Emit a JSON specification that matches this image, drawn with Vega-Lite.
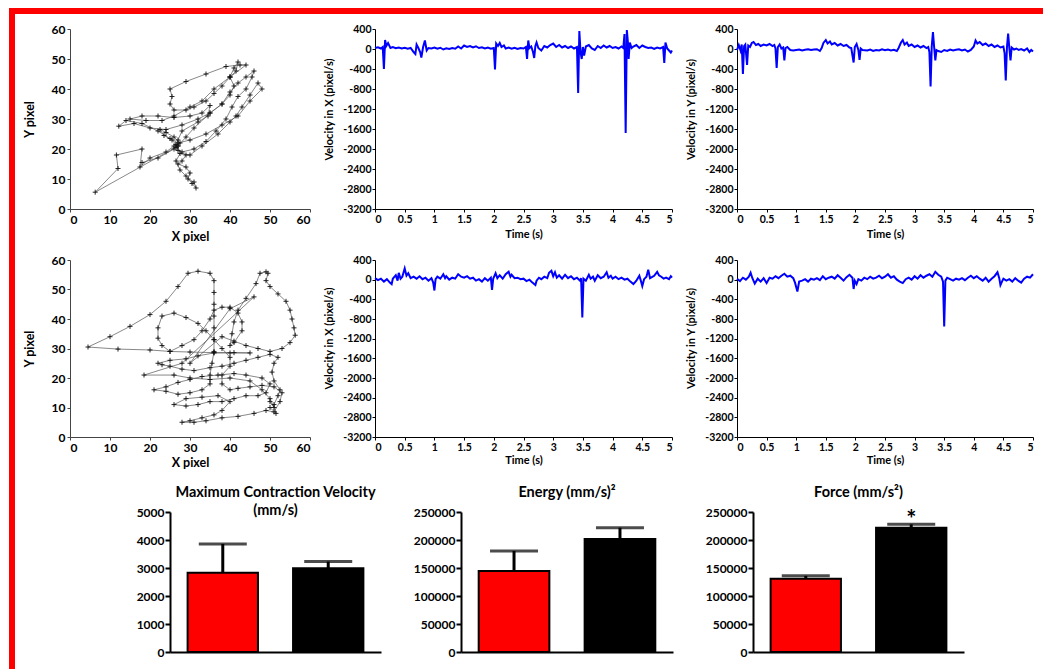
{
  "$schema": "https://vega.github.io/schema/vega-lite/v6.json",
  "background": "white",
  "padding": {"left": 9, "top": 8, "right": 0, "bottom": 0},
  "config": {
    "view": {"stroke": null},
    "font": "Lato",
    "axis": {"labelFont": "Lato", "labelFontWeight": "bold", "titleFont": "Lato", "titleFontWeight": "bold", "labelColor": "#000", "titleColor": "#000", "domainColor": "#000", "tickColor": "#000", "grid": false, "labelOverlap": false},
    "title": {"font": "Lato", "fontWeight": "bold", "color": "#000"}
  },
  "datasets": {
    "traj1": [{"x":27,"y":21},{"x":6.3,"y":5.6},{"x":12,"y":13.5},{"x":11.6,"y":18},{"x":18,"y":20},{"x":17.5,"y":14},{"x":20,"y":17},{"x":24,"y":19},{"x":26,"y":21},{"x":27.5,"y":22},{"x":26,"y":24},{"x":24,"y":25.5},{"x":22.5,"y":26.5},{"x":23.5,"y":24.5},{"x":25.5,"y":23},{"x":26.5,"y":21.5},{"x":27,"y":19.5},{"x":29,"y":18},{"x":28,"y":16},{"x":27,"y":15},{"x":29,"y":14},{"x":30,"y":12},{"x":29.5,"y":10},{"x":31,"y":9},{"x":31.5,"y":7},{"x":30.5,"y":8.5},{"x":29,"y":11},{"x":27.5,"y":13},{"x":26.5,"y":16},{"x":27.5,"y":18.5},{"x":30,"y":18},{"x":33,"y":21},{"x":37,"y":25},{"x":40,"y":29},{"x":41.5,"y":31},{"x":43,"y":34},{"x":45,"y":38},{"x":47,"y":42},{"x":48,"y":40},{"x":45,"y":36},{"x":42,"y":31},{"x":38,"y":28},{"x":34,"y":25},{"x":30,"y":23},{"x":27,"y":22},{"x":25,"y":23.5},{"x":22,"y":26},{"x":18,"y":28.5},{"x":14,"y":29.5},{"x":12.2,"y":27.6},{"x":16,"y":28.5},{"x":20,"y":27},{"x":24,"y":26.5},{"x":28,"y":28},{"x":32,"y":30},{"x":35,"y":32},{"x":38,"y":35},{"x":40,"y":38},{"x":41,"y":41},{"x":40,"y":44},{"x":41,"y":47},{"x":42,"y":49},{"x":41.5,"y":46},{"x":40,"y":44},{"x":38,"y":41},{"x":36,"y":38.5},{"x":34,"y":36},{"x":31,"y":34},{"x":29,"y":33},{"x":26,"y":33},{"x":25,"y":35},{"x":25.5,"y":37.5},{"x":25,"y":40},{"x":29,"y":42.5},{"x":34,"y":45},{"x":39,"y":47.5},{"x":42.5,"y":48},{"x":44,"y":48},{"x":40,"y":44},{"x":36,"y":40},{"x":33,"y":36},{"x":30,"y":34},{"x":26,"y":31},{"x":23,"y":29.5},{"x":19,"y":29.5},{"x":15,"y":30},{"x":18,"y":31},{"x":22,"y":31},{"x":26,"y":30.5},{"x":30,"y":31},{"x":33,"y":32},{"x":35,"y":34.5},{"x":34.5,"y":31},{"x":32,"y":29},{"x":28,"y":26},{"x":27,"y":23},{"x":26.5,"y":20.5},{"x":28,"y":19},{"x":31,"y":20},{"x":34,"y":22.5},{"x":36.5,"y":26},{"x":39,"y":30},{"x":40.5,"y":34},{"x":42,"y":37.5},{"x":44,"y":40},{"x":45.5,"y":44},{"x":46,"y":46},{"x":44,"y":44},{"x":42,"y":42},{"x":40,"y":39},{"x":38,"y":35},{"x":35,"y":32},{"x":31,"y":27},{"x":29,"y":24},{"x":27,"y":21},{"x":26,"y":20},{"x":22,"y":17},{"x":18,"y":15.5}],
    "traj2": [{"x":50,"y":10},{"x":51.5,"y":8},{"x":51,"y":11},{"x":52,"y":14},{"x":52.5,"y":16},{"x":51,"y":19},{"x":50.5,"y":22},{"x":51,"y":25},{"x":52,"y":27},{"x":50,"y":28},{"x":47,"y":27},{"x":44,"y":26},{"x":41,"y":25},{"x":38,"y":24},{"x":35,"y":23.5},{"x":31,"y":22.5},{"x":28,"y":23},{"x":25,"y":24},{"x":23,"y":24.5},{"x":22,"y":25},{"x":25,"y":26},{"x":29,"y":26.5},{"x":32,"y":27.5},{"x":36,"y":28.5},{"x":40,"y":28.5},{"x":45,"y":28.5},{"x":41,"y":28.6},{"x":36,"y":28.6},{"x":30,"y":28.8},{"x":25,"y":29},{"x":20,"y":29.5},{"x":12,"y":29.8},{"x":4.5,"y":30.5},{"x":10,"y":34},{"x":15,"y":37.5},{"x":20,"y":41.5},{"x":24,"y":46},{"x":27,"y":51},{"x":29.5,"y":55.5},{"x":32,"y":56.2},{"x":35,"y":55.5},{"x":36,"y":53},{"x":36,"y":49},{"x":36,"y":45},{"x":36,"y":41},{"x":36,"y":37},{"x":36,"y":33},{"x":36,"y":29},{"x":35.5,"y":25},{"x":35,"y":21},{"x":35,"y":18},{"x":33,"y":16},{"x":30,"y":15},{"x":27,"y":14.5},{"x":24,"y":15.5},{"x":21,"y":16},{"x":24,"y":17},{"x":27,"y":18.5},{"x":30,"y":19.5},{"x":33,"y":20.5},{"x":37,"y":21},{"x":41,"y":21.5},{"x":44,"y":21},{"x":48,"y":20},{"x":50,"y":18},{"x":49,"y":15},{"x":47,"y":14},{"x":44,"y":14},{"x":41,"y":13},{"x":38,"y":12},{"x":35,"y":12},{"x":32,"y":11},{"x":29,"y":10.5},{"x":26,"y":11},{"x":29,"y":13},{"x":33,"y":13.5},{"x":37,"y":14},{"x":40,"y":12},{"x":38,"y":9},{"x":36,"y":7.5},{"x":33,"y":6.5},{"x":30,"y":5.5},{"x":28,"y":5},{"x":31,"y":5},{"x":34,"y":5.5},{"x":38,"y":6.5},{"x":42,"y":7},{"x":46,"y":8},{"x":49,"y":9},{"x":51,"y":8.5},{"x":52.5,"y":12},{"x":53,"y":15},{"x":51,"y":17},{"x":48,"y":17.5},{"x":45,"y":17},{"x":42,"y":16.5},{"x":40,"y":16},{"x":38,"y":18},{"x":38,"y":21},{"x":40,"y":24},{"x":40,"y":27},{"x":38,"y":30},{"x":36,"y":33},{"x":34,"y":36},{"x":32,"y":38.5},{"x":29,"y":40.5},{"x":26,"y":42},{"x":23,"y":41},{"x":22,"y":37},{"x":22,"y":33.5},{"x":23,"y":31},{"x":25,"y":29},{"x":28,"y":31},{"x":31,"y":33},{"x":33,"y":36},{"x":35,"y":40},{"x":36,"y":43},{"x":38,"y":44},{"x":40,"y":44},{"x":42,"y":42},{"x":43,"y":39},{"x":43,"y":36},{"x":41,"y":32},{"x":40,"y":31},{"x":40.5,"y":35},{"x":41,"y":39},{"x":42,"y":43},{"x":44,"y":47},{"x":46.5,"y":52},{"x":47.5,"y":55.5},{"x":49,"y":56},{"x":49.5,"y":55.5},{"x":49,"y":53},{"x":50,"y":51},{"x":52,"y":48.5},{"x":54,"y":46},{"x":55,"y":43},{"x":55.5,"y":40},{"x":56,"y":37},{"x":56.3,"y":34.5},{"x":55,"y":32},{"x":53,"y":30},{"x":50,"y":29},{"x":47,"y":30},{"x":44,"y":31},{"x":41,"y":32.5},{"x":38,"y":34},{"x":30,"y":25},{"x":40,"y":43.5},{"x":46,"y":47.5},{"x":28,"y":25},{"x":18.5,"y":21},{"x":26,"y":21},{"x":30,"y":20},{"x":35,"y":19.5},{"x":40,"y":20},{"x":45,"y":19},{"x":48,"y":16},{"x":50,"y":13},{"x":51,"y":10},{"x":50,"y":12}],
    "vx1": [{"t":0,"v":20},{"t":0.05,"v":35},{"t":0.1,"v":10},{"t":0.13,"v":40},{"t":0.15,"v":-400},{"t":0.17,"v":180},{"t":0.19,"v":60},{"t":0.22,"v":120},{"t":0.26,"v":20},{"t":0.3,"v":40},{"t":0.35,"v":15},{"t":0.4,"v":30},{"t":0.45,"v":10},{"t":0.5,"v":25},{"t":0.55,"v":5},{"t":0.6,"v":20},{"t":0.65,"v":-60},{"t":0.68,"v":-100},{"t":0.7,"v":90},{"t":0.73,"v":20},{"t":0.76,"v":-60},{"t":0.78,"v":-170},{"t":0.81,"v":40},{"t":0.84,"v":170},{"t":0.87,"v":-30},{"t":0.9,"v":20},{"t":0.95,"v":10},{"t":1.0,"v":30},{"t":1.05,"v":5},{"t":1.1,"v":25},{"t":1.15,"v":-10},{"t":1.2,"v":15},{"t":1.25,"v":0},{"t":1.3,"v":20},{"t":1.35,"v":5},{"t":1.4,"v":50},{"t":1.45,"v":10},{"t":1.5,"v":70},{"t":1.55,"v":40},{"t":1.6,"v":60},{"t":1.65,"v":30},{"t":1.7,"v":55},{"t":1.75,"v":20},{"t":1.8,"v":35},{"t":1.85,"v":10},{"t":1.9,"v":30},{"t":1.95,"v":5},{"t":2.0,"v":20},{"t":2.02,"v":-410},{"t":2.04,"v":110},{"t":2.07,"v":60},{"t":2.1,"v":120},{"t":2.13,"v":40},{"t":2.17,"v":70},{"t":2.2,"v":10},{"t":2.25,"v":30},{"t":2.3,"v":5},{"t":2.35,"v":25},{"t":2.4,"v":0},{"t":2.45,"v":20},{"t":2.5,"v":10},{"t":2.54,"v":40},{"t":2.56,"v":-200},{"t":2.58,"v":170},{"t":2.6,"v":20},{"t":2.63,"v":50},{"t":2.66,"v":-60},{"t":2.68,"v":-180},{"t":2.7,"v":60},{"t":2.72,"v":130},{"t":2.75,"v":20},{"t":2.8,"v":-30},{"t":2.85,"v":60},{"t":2.9,"v":30},{"t":2.95,"v":80},{"t":3.0,"v":110},{"t":3.05,"v":40},{"t":3.1,"v":80},{"t":3.15,"v":30},{"t":3.2,"v":60},{"t":3.25,"v":20},{"t":3.3,"v":50},{"t":3.35,"v":10},{"t":3.4,"v":40},{"t":3.42,"v":-880},{"t":3.44,"v":360},{"t":3.46,"v":-60},{"t":3.48,"v":-200},{"t":3.5,"v":40},{"t":3.52,"v":-130},{"t":3.55,"v":50},{"t":3.6,"v":80},{"t":3.65,"v":10},{"t":3.7,"v":-20},{"t":3.75,"v":60},{"t":3.8,"v":20},{"t":3.85,"v":70},{"t":3.9,"v":30},{"t":3.95,"v":60},{"t":4.0,"v":20},{"t":4.05,"v":40},{"t":4.1,"v":10},{"t":4.15,"v":50},{"t":4.18,"v":20},{"t":4.2,"v":300},{"t":4.22,"v":-1680},{"t":4.24,"v":380},{"t":4.26,"v":100},{"t":4.27,"v":-200},{"t":4.29,"v":130},{"t":4.32,"v":20},{"t":4.35,"v":50},{"t":4.4,"v":80},{"t":4.45,"v":20},{"t":4.5,"v":70},{"t":4.55,"v":40},{"t":4.6,"v":20},{"t":4.65,"v":30},{"t":4.7,"v":0},{"t":4.75,"v":30},{"t":4.8,"v":10},{"t":4.85,"v":40},{"t":4.87,"v":-280},{"t":4.89,"v":130},{"t":4.92,"v":10},{"t":4.95,"v":-30},{"t":4.98,"v":-70},{"t":5.0,"v":-30}],
    "vy1": [{"t":0,"v":-20},{"t":0.03,"v":80},{"t":0.06,"v":-30},{"t":0.08,"v":90},{"t":0.1,"v":-500},{"t":0.12,"v":60},{"t":0.14,"v":90},{"t":0.17,"v":-320},{"t":0.19,"v":70},{"t":0.22,"v":40},{"t":0.25,"v":120},{"t":0.28,"v":140},{"t":0.32,"v":80},{"t":0.36,"v":100},{"t":0.4,"v":60},{"t":0.45,"v":90},{"t":0.5,"v":70},{"t":0.55,"v":100},{"t":0.6,"v":60},{"t":0.63,"v":80},{"t":0.65,"v":10},{"t":0.67,"v":-380},{"t":0.69,"v":40},{"t":0.72,"v":90},{"t":0.75,"v":10},{"t":0.78,"v":30},{"t":0.8,"v":-230},{"t":0.82,"v":20},{"t":0.85,"v":40},{"t":0.9,"v":-20},{"t":0.95,"v":-30},{"t":1.0,"v":-20},{"t":1.05,"v":-10},{"t":1.1,"v":-30},{"t":1.15,"v":-15},{"t":1.2,"v":-5},{"t":1.25,"v":-20},{"t":1.3,"v":-10},{"t":1.35,"v":-5},{"t":1.4,"v":-40},{"t":1.43,"v":20},{"t":1.46,"v":120},{"t":1.5,"v":180},{"t":1.53,"v":110},{"t":1.57,"v":150},{"t":1.6,"v":90},{"t":1.65,"v":120},{"t":1.7,"v":70},{"t":1.75,"v":100},{"t":1.8,"v":60},{"t":1.85,"v":80},{"t":1.9,"v":30},{"t":1.93,"v":20},{"t":1.97,"v":-270},{"t":1.99,"v":40},{"t":2.02,"v":100},{"t":2.05,"v":-20},{"t":2.07,"v":-220},{"t":2.09,"v":10},{"t":2.12,"v":-20},{"t":2.2,"v":-30},{"t":2.25,"v":-10},{"t":2.3,"v":-40},{"t":2.35,"v":-20},{"t":2.4,"v":-30},{"t":2.45,"v":-5},{"t":2.5,"v":-25},{"t":2.55,"v":-10},{"t":2.6,"v":-30},{"t":2.65,"v":-15},{"t":2.7,"v":-40},{"t":2.73,"v":20},{"t":2.77,"v":130},{"t":2.8,"v":180},{"t":2.83,"v":90},{"t":2.87,"v":130},{"t":2.9,"v":60},{"t":2.95,"v":90},{"t":3.0,"v":40},{"t":3.05,"v":70},{"t":3.1,"v":30},{"t":3.15,"v":60},{"t":3.2,"v":20},{"t":3.23,"v":40},{"t":3.25,"v":-60},{"t":3.27,"v":-750},{"t":3.29,"v":60},{"t":3.31,"v":340},{"t":3.33,"v":40},{"t":3.35,"v":-230},{"t":3.37,"v":-20},{"t":3.4,"v":-40},{"t":3.45,"v":-60},{"t":3.5,"v":-20},{"t":3.55,"v":-40},{"t":3.6,"v":-10},{"t":3.65,"v":-30},{"t":3.7,"v":-15},{"t":3.75,"v":-5},{"t":3.8,"v":-30},{"t":3.85,"v":-10},{"t":3.9,"v":-50},{"t":3.95,"v":-20},{"t":4.0,"v":50},{"t":4.03,"v":170},{"t":4.06,"v":110},{"t":4.1,"v":140},{"t":4.15,"v":80},{"t":4.2,"v":110},{"t":4.25,"v":60},{"t":4.3,"v":90},{"t":4.35,"v":40},{"t":4.4,"v":70},{"t":4.45,"v":30},{"t":4.5,"v":50},{"t":4.52,"v":-80},{"t":4.54,"v":-630},{"t":4.56,"v":40},{"t":4.58,"v":310},{"t":4.6,"v":20},{"t":4.62,"v":-230},{"t":4.64,"v":30},{"t":4.68,"v":-10},{"t":4.72,"v":10},{"t":4.76,"v":-20},{"t":4.8,"v":0},{"t":4.85,"v":-30},{"t":4.9,"v":10},{"t":4.94,"v":-60},{"t":4.97,"v":-20},{"t":5.0,"v":-50}],
    "vx2": [{"t":0,"v":30},{"t":0.05,"v":-10},{"t":0.1,"v":20},{"t":0.15,"v":-40},{"t":0.2,"v":10},{"t":0.25,"v":-60},{"t":0.28,"v":-90},{"t":0.3,"v":20},{"t":0.35,"v":90},{"t":0.38,"v":-20},{"t":0.4,"v":140},{"t":0.43,"v":20},{"t":0.46,"v":60},{"t":0.5,"v":230},{"t":0.53,"v":80},{"t":0.56,"v":130},{"t":0.6,"v":30},{"t":0.65,"v":60},{"t":0.7,"v":20},{"t":0.75,"v":70},{"t":0.8,"v":10},{"t":0.85,"v":40},{"t":0.9,"v":-20},{"t":0.95,"v":30},{"t":0.98,"v":-60},{"t":1.0,"v":-220},{"t":1.02,"v":10},{"t":1.05,"v":60},{"t":1.1,"v":20},{"t":1.15,"v":110},{"t":1.18,"v":30},{"t":1.2,"v":70},{"t":1.25,"v":0},{"t":1.3,"v":40},{"t":1.35,"v":20},{"t":1.4,"v":110},{"t":1.45,"v":60},{"t":1.5,"v":40},{"t":1.55,"v":70},{"t":1.6,"v":20},{"t":1.65,"v":40},{"t":1.7,"v":-20},{"t":1.75,"v":10},{"t":1.8,"v":-40},{"t":1.85,"v":30},{"t":1.9,"v":-20},{"t":1.95,"v":40},{"t":1.97,"v":-210},{"t":1.99,"v":20},{"t":2.03,"v":130},{"t":2.06,"v":30},{"t":2.1,"v":90},{"t":2.15,"v":20},{"t":2.2,"v":110},{"t":2.25,"v":160},{"t":2.28,"v":60},{"t":2.3,"v":100},{"t":2.35,"v":30},{"t":2.4,"v":40},{"t":2.45,"v":10},{"t":2.5,"v":20},{"t":2.55,"v":-30},{"t":2.6,"v":0},{"t":2.65,"v":-60},{"t":2.7,"v":-110},{"t":2.72,"v":-20},{"t":2.76,"v":40},{"t":2.8,"v":10},{"t":2.85,"v":60},{"t":2.9,"v":30},{"t":2.93,"v":140},{"t":2.97,"v":180},{"t":3.0,"v":70},{"t":3.03,"v":150},{"t":3.06,"v":40},{"t":3.1,"v":90},{"t":3.15,"v":20},{"t":3.2,"v":100},{"t":3.25,"v":30},{"t":3.3,"v":70},{"t":3.35,"v":10},{"t":3.4,"v":40},{"t":3.45,"v":-20},{"t":3.47,"v":30},{"t":3.49,"v":-770},{"t":3.51,"v":20},{"t":3.55,"v":-20},{"t":3.6,"v":100},{"t":3.63,"v":20},{"t":3.67,"v":60},{"t":3.7,"v":-20},{"t":3.75,"v":90},{"t":3.8,"v":30},{"t":3.85,"v":60},{"t":3.9,"v":150},{"t":3.93,"v":40},{"t":3.97,"v":80},{"t":4.0,"v":20},{"t":4.05,"v":60},{"t":4.1,"v":10},{"t":4.15,"v":40},{"t":4.2,"v":0},{"t":4.25,"v":20},{"t":4.3,"v":-40},{"t":4.35,"v":-90},{"t":4.4,"v":-20},{"t":4.45,"v":80},{"t":4.48,"v":-40},{"t":4.5,"v":-130},{"t":4.53,"v":10},{"t":4.57,"v":60},{"t":4.6,"v":200},{"t":4.63,"v":30},{"t":4.66,"v":50},{"t":4.7,"v":80},{"t":4.75,"v":160},{"t":4.78,"v":90},{"t":4.82,"v":60},{"t":4.86,"v":20},{"t":4.9,"v":40},{"t":4.95,"v":10},{"t":4.98,"v":70},{"t":5.0,"v":40}],
    "vy2": [{"t":0,"v":20},{"t":0.05,"v":-30},{"t":0.1,"v":40},{"t":0.15,"v":0},{"t":0.2,"v":60},{"t":0.23,"v":140},{"t":0.26,"v":30},{"t":0.3,"v":-80},{"t":0.35,"v":20},{"t":0.4,"v":-40},{"t":0.45,"v":30},{"t":0.5,"v":-70},{"t":0.55,"v":40},{"t":0.6,"v":20},{"t":0.65,"v":70},{"t":0.7,"v":30},{"t":0.75,"v":80},{"t":0.8,"v":120},{"t":0.85,"v":60},{"t":0.9,"v":80},{"t":0.95,"v":30},{"t":0.98,"v":-60},{"t":1.02,"v":-240},{"t":1.05,"v":-40},{"t":1.1,"v":-20},{"t":1.15,"v":10},{"t":1.2,"v":-40},{"t":1.25,"v":20},{"t":1.3,"v":0},{"t":1.35,"v":30},{"t":1.4,"v":-10},{"t":1.45,"v":70},{"t":1.5,"v":10},{"t":1.55,"v":40},{"t":1.6,"v":60},{"t":1.65,"v":20},{"t":1.7,"v":90},{"t":1.75,"v":40},{"t":1.8,"v":-20},{"t":1.85,"v":50},{"t":1.9,"v":100},{"t":1.95,"v":40},{"t":1.97,"v":-190},{"t":1.99,"v":-20},{"t":2.02,"v":-90},{"t":2.05,"v":10},{"t":2.1,"v":-20},{"t":2.15,"v":40},{"t":2.2,"v":10},{"t":2.25,"v":60},{"t":2.3,"v":20},{"t":2.35,"v":40},{"t":2.4,"v":80},{"t":2.45,"v":30},{"t":2.5,"v":60},{"t":2.55,"v":110},{"t":2.6,"v":40},{"t":2.65,"v":70},{"t":2.7,"v":0},{"t":2.75,"v":-40},{"t":2.8,"v":-70},{"t":2.85,"v":10},{"t":2.9,"v":40},{"t":2.95,"v":0},{"t":3.0,"v":70},{"t":3.05,"v":20},{"t":3.1,"v":90},{"t":3.15,"v":40},{"t":3.2,"v":80},{"t":3.25,"v":110},{"t":3.3,"v":60},{"t":3.35,"v":160},{"t":3.4,"v":100},{"t":3.45,"v":60},{"t":3.48,"v":-40},{"t":3.5,"v":-950},{"t":3.52,"v":-20},{"t":3.55,"v":40},{"t":3.6,"v":10},{"t":3.65,"v":-20},{"t":3.7,"v":20},{"t":3.75,"v":0},{"t":3.8,"v":30},{"t":3.85,"v":-10},{"t":3.9,"v":40},{"t":3.95,"v":80},{"t":4.0,"v":30},{"t":4.05,"v":70},{"t":4.1,"v":20},{"t":4.15,"v":-20},{"t":4.2,"v":40},{"t":4.25,"v":-40},{"t":4.3,"v":20},{"t":4.35,"v":70},{"t":4.4,"v":150},{"t":4.43,"v":30},{"t":4.45,"v":-110},{"t":4.48,"v":-30},{"t":4.5,"v":20},{"t":4.55,"v":-20},{"t":4.6,"v":10},{"t":4.65,"v":-40},{"t":4.7,"v":30},{"t":4.75,"v":-20},{"t":4.8,"v":-60},{"t":4.85,"v":20},{"t":4.9,"v":60},{"t":4.95,"v":40},{"t":5.0,"v":110}],
    "mcv": [{"g":"A","m":2830,"hi":3860,"star":""},{"g":"B","m":2990,"hi":3230,"star":""}],
    "energy": [{"g":"A","m":144500,"hi":180500,"star":""},{"g":"B","m":202000,"hi":222000,"star":""}],
    "force": [{"g":"A","m":131000,"hi":136000,"star":""},{"g":"B","m":222000,"hi":228000,"star":"*"}]
  },
  "spacing": 0,
  "hconcat": [
    {
      "width": 6, "height": 661,
      "view": {"fill": "#ff0000", "stroke": null},
      "data": {"values": [{}]},
      "mark": {"type": "rect", "color": "#ff0000"},
      "encoding": {}
    },
    {
      "spacing": 9,
      "vconcat": [
        {
          "width": 1028, "height": 6,
          "view": {"fill": "#ff0000", "stroke": null},
          "data": {"values": [{}]},
          "mark": {"type": "rect", "color": "#ff0000"},
          "encoding": {}
        },
        {
          "spacing": 7,
          "hconcat": [
            {
              "width": 1, "height": 1,
              "data": {"values": [{}]},
              "mark": {"type": "rect", "opacity": 0},
              "encoding": {}
            },
            {
              "spacing": 15,
              "center": false,
              "vconcat": [
                {
                  "spacing": 11,
                  "center": false,
                  "vconcat": [
                    {
                      "spacing": 65,
                      "bounds": "flush",
                      "hconcat": [
                        {
                          "width": 240, "height": 180,
                          "data": {"name": "traj1"},
                          "encoding": {
                            "x": {"field": "x", "type": "quantitative", "scale": {"domain": [0, 60], "nice": false}, "axis": {"title": "X pixel", "values": [0,10,20,30,40,50,60], "labelFontSize": 12, "titleFontSize": 12.5, "tickSize": 3, "labelPadding": 2, "titlePadding": 5, "domainColor": "#444", "tickColor": "#444"}},
                            "y": {"field": "y", "type": "quantitative", "scale": {"domain": [0, 60], "nice": false}, "axis": {"title": "Y pixel", "values": [0,10,20,30,40,50,60], "labelFontSize": 12, "titleFontSize": 12.5, "tickSize": 3, "labelPadding": 2, "titlePadding": 15, "domainColor": "#444", "tickColor": "#444"}}
                          },
                          "layer": [
                            {"mark": {"type": "line", "color": "#555", "strokeWidth": 0.7}, "encoding": {"order": {"value": null}}},
                            {"mark": {"type": "point", "shape": "M-1,0L1,0M0,-1L0,1", "size": 25, "filled": false, "strokeWidth": 0.9, "color": "#111", "opacity": 1}}
                          ]
                        },
                        {
                          "width": 297, "height": 180,
                          "data": {"name": "vx1"},
                          "mark": {"type": "line", "color": "#0000ff", "strokeWidth": 2},
                          "encoding": {
                            "x": {"field": "t", "type": "quantitative", "scale": {"domain": [0, 5], "nice": false}, "axis": {"title": "Time (s)", "values": [0,0.5,1,1.5,2,2.5,3,3.5,4,4.5,5], "labelExpr": "'' + datum.value", "labelFontSize": 10.5, "titleFontSize": 11, "tickSize": 3, "labelPadding": 2, "titlePadding": 4}},
                            "y": {"field": "v", "type": "quantitative", "scale": {"domain": [-3200, 400], "nice": false}, "axis": {"title": "Velocity in X (pixel/s)", "titleY": 80, "values": [-3200,-2800,-2400,-2000,-1600,-1200,-800,-400,0,400], "labelExpr": "'' + datum.value", "labelFontSize": 10.5, "titleFontSize": 11, "tickSize": 3, "labelPadding": 1, "titlePadding": 8}}
                          }
                        },
                        {
                          "width": 296, "height": 180,
                          "data": {"name": "vy1"},
                          "mark": {"type": "line", "color": "#0000ff", "strokeWidth": 2},
                          "encoding": {
                            "x": {"field": "t", "type": "quantitative", "scale": {"domain": [0, 5], "nice": false}, "axis": {"title": "Time (s)", "values": [0,0.5,1,1.5,2,2.5,3,3.5,4,4.5,5], "labelExpr": "'' + datum.value", "labelFontSize": 10.5, "titleFontSize": 11, "tickSize": 3, "labelPadding": 2, "titlePadding": 4}},
                            "y": {"field": "v", "type": "quantitative", "scale": {"domain": [-3200, 400], "nice": false}, "axis": {"title": "Velocity in Y (pixel/s)", "titleY": 80, "values": [-3200,-2800,-2400,-2000,-1600,-1200,-800,-400,0,400], "labelExpr": "'' + datum.value", "labelFontSize": 10.5, "titleFontSize": 11, "tickSize": 3, "labelPadding": 1, "titlePadding": 8}}
                          }
                        }
                      ]
                    },
                    {
                      "spacing": 65,
                      "bounds": "flush",
                      "hconcat": [
                        {
                          "width": 240, "height": 177,
                          "data": {"name": "traj2"},
                          "encoding": {
                            "x": {"field": "x", "type": "quantitative", "scale": {"domain": [0, 60], "nice": false}, "axis": {"title": "X pixel", "values": [0,10,20,30,40,50,60], "labelFontSize": 12, "titleFontSize": 12.5, "tickSize": 3, "labelPadding": 2, "titlePadding": 3, "domainColor": "#444", "tickColor": "#444"}},
                            "y": {"field": "y", "type": "quantitative", "scale": {"domain": [0, 60], "nice": false}, "axis": {"title": "Y pixel", "values": [0,10,20,30,40,50,60], "labelFontSize": 12, "titleFontSize": 12.5, "tickSize": 3, "labelPadding": 2, "titlePadding": 15, "domainColor": "#444", "tickColor": "#444"}}
                          },
                          "layer": [
                            {"mark": {"type": "line", "color": "#555", "strokeWidth": 0.7}, "encoding": {"order": {"value": null}}},
                            {"mark": {"type": "point", "shape": "M-1,0L1,0M0,-1L0,1", "size": 25, "filled": false, "strokeWidth": 0.9, "color": "#111", "opacity": 1}}
                          ]
                        },
                        {
                          "width": 297, "height": 177,
                          "data": {"name": "vx2"},
                          "mark": {"type": "line", "color": "#0000ff", "strokeWidth": 2},
                          "encoding": {
                            "x": {"field": "t", "type": "quantitative", "scale": {"domain": [0, 5], "nice": false}, "axis": {"title": "Time (s)", "values": [0,0.5,1,1.5,2,2.5,3,3.5,4,4.5,5], "labelExpr": "'' + datum.value", "labelFontSize": 10.5, "titleFontSize": 11, "tickSize": 3, "labelPadding": 2, "titlePadding": 2}},
                            "y": {"field": "v", "type": "quantitative", "scale": {"domain": [-3200, 400], "nice": false}, "axis": {"title": "Velocity in X (pixel/s)", "titleY": 78, "values": [-3200,-2800,-2400,-2000,-1600,-1200,-800,-400,0,400], "labelExpr": "'' + datum.value", "labelFontSize": 10.5, "titleFontSize": 11, "tickSize": 3, "labelPadding": 1, "titlePadding": 8}}
                          }
                        },
                        {
                          "width": 296, "height": 177,
                          "data": {"name": "vy2"},
                          "mark": {"type": "line", "color": "#0000ff", "strokeWidth": 2},
                          "encoding": {
                            "x": {"field": "t", "type": "quantitative", "scale": {"domain": [0, 5], "nice": false}, "axis": {"title": "Time (s)", "values": [0,0.5,1,1.5,2,2.5,3,3.5,4,4.5,5], "labelExpr": "'' + datum.value", "labelFontSize": 10.5, "titleFontSize": 11, "tickSize": 3, "labelPadding": 2, "titlePadding": 2}},
                            "y": {"field": "v", "type": "quantitative", "scale": {"domain": [-3200, 400], "nice": false}, "axis": {"title": "Velocity in Y (pixel/s)", "titleY": 78, "values": [-3200,-2800,-2400,-2000,-1600,-1200,-800,-400,0,400], "labelExpr": "'' + datum.value", "labelFontSize": 10.5, "titleFontSize": 11, "tickSize": 3, "labelPadding": 1, "titlePadding": 8}}
                          }
                        }
                      ]
                    }
                  ]
                },
                {
                  "spacing": 80,
                  "bounds": "flush",
                  "hconcat": [
                    {
                      "width": 20, "height": 140,
                      "data": {"values": [{}]},
                      "mark": {"type": "rect", "opacity": 0},
                      "encoding": {}
                    },
                    {
                      "width": 211, "height": 140,
                      "title": {"text": ["Maximum Contraction Velocity", "(mm/s)"], "fontSize": 14.5, "lineHeight": 18, "offset": -12, "anchor": "middle"},
                      "data": {"name": "mcv"},
                      "encoding": {"x": {"field": "g", "type": "nominal", "sort": null, "scale": {"paddingInner": 0.333, "paddingOuter": 0.167}, "axis": {"title": null, "labels": false, "ticks": false, "domainWidth": 2}}},
                      "layer": [
                        {"mark": {"type": "bar", "stroke": "#000", "strokeWidth": 2}, "encoding": {"y": {"field": "m", "type": "quantitative", "scale": {"domain": [0, 5000], "nice": false}, "axis": {"title": null, "values": [0,1000,2000,3000,4000,5000], "labelExpr": "'' + datum.value", "labelOverlap": false, "labelFontSize": 12, "tickSize": 5, "tickWidth": 2, "domainWidth": 2, "labelPadding": 1}}, "color": {"field": "g", "type": "nominal", "scale": {"domain": ["A", "B"], "range": ["#ff0000", "#000000"]}, "legend": null}}},
                        {"mark": {"type": "rule", "color": "#000", "strokeWidth": 3}, "encoding": {"y": {"field": "m", "type": "quantitative", "axis": {"title": null, "values": [0,1000,2000,3000,4000,5000], "labelExpr": "'' + datum.value", "labelOverlap": false, "labelFontSize": 12, "tickSize": 5, "tickWidth": 2, "domainWidth": 2, "labelPadding": 1}}, "y2": {"field": "hi"}}},
                        {"mark": {"type": "tick", "orient": "horizontal", "size": 48, "thickness": 3, "color": "#000"}, "encoding": {"y": {"field": "hi", "type": "quantitative", "axis": {"title": null, "values": [0,1000,2000,3000,4000,5000], "labelExpr": "'' + datum.value", "labelOverlap": false, "labelFontSize": 12, "tickSize": 5, "tickWidth": 2, "domainWidth": 2, "labelPadding": 1}}}}
                      ]
                    },
                    {
                      "width": 212, "height": 140,
                      "title": {"text": ["Energy (mm/s)²", " "], "fontSize": 14.5, "lineHeight": 18, "offset": -12, "anchor": "middle"},
                      "data": {"name": "energy"},
                      "encoding": {"x": {"field": "g", "type": "nominal", "sort": null, "scale": {"paddingInner": 0.333, "paddingOuter": 0.167}, "axis": {"title": null, "labels": false, "ticks": false, "domainWidth": 2}}},
                      "layer": [
                        {"mark": {"type": "bar", "stroke": "#000", "strokeWidth": 2}, "encoding": {"y": {"field": "m", "type": "quantitative", "scale": {"domain": [0, 250000], "nice": false}, "axis": {"title": null, "values": [0,50000,100000,150000,200000,250000], "labelExpr": "'' + datum.value", "labelOverlap": false, "labelFontSize": 12, "tickSize": 5, "tickWidth": 2, "domainWidth": 2, "labelPadding": 1}}, "color": {"field": "g", "type": "nominal", "scale": {"domain": ["A", "B"], "range": ["#ff0000", "#000000"]}, "legend": null}}},
                        {"mark": {"type": "rule", "color": "#000", "strokeWidth": 3}, "encoding": {"y": {"field": "m", "type": "quantitative", "axis": {"title": null, "values": [0,50000,100000,150000,200000,250000], "labelExpr": "'' + datum.value", "labelOverlap": false, "labelFontSize": 12, "tickSize": 5, "tickWidth": 2, "domainWidth": 2, "labelPadding": 1}}, "y2": {"field": "hi"}}},
                        {"mark": {"type": "tick", "orient": "horizontal", "size": 48, "thickness": 3, "color": "#000"}, "encoding": {"y": {"field": "hi", "type": "quantitative", "axis": {"title": null, "values": [0,50000,100000,150000,200000,250000], "labelExpr": "'' + datum.value", "labelOverlap": false, "labelFontSize": 12, "tickSize": 5, "tickWidth": 2, "domainWidth": 2, "labelPadding": 1}}}}
                      ]
                    },
                    {
                      "width": 211, "height": 140,
                      "title": {"text": ["Force (mm/s²)", " "], "fontSize": 14.5, "lineHeight": 18, "offset": -12, "anchor": "middle"},
                      "data": {"name": "force"},
                      "encoding": {"x": {"field": "g", "type": "nominal", "sort": null, "scale": {"paddingInner": 0.333, "paddingOuter": 0.167}, "axis": {"title": null, "labels": false, "ticks": false, "domainWidth": 2}}},
                      "layer": [
                        {"mark": {"type": "bar", "stroke": "#000", "strokeWidth": 2}, "encoding": {"y": {"field": "m", "type": "quantitative", "scale": {"domain": [0, 250000], "nice": false}, "axis": {"title": null, "values": [0,50000,100000,150000,200000,250000], "labelExpr": "'' + datum.value", "labelOverlap": false, "labelFontSize": 12, "tickSize": 5, "tickWidth": 2, "domainWidth": 2, "labelPadding": 1}}, "color": {"field": "g", "type": "nominal", "scale": {"domain": ["A", "B"], "range": ["#ff0000", "#000000"]}, "legend": null}}},
                        {"mark": {"type": "rule", "color": "#000", "strokeWidth": 3}, "encoding": {"y": {"field": "m", "type": "quantitative", "axis": {"title": null, "values": [0,50000,100000,150000,200000,250000], "labelExpr": "'' + datum.value", "labelOverlap": false, "labelFontSize": 12, "tickSize": 5, "tickWidth": 2, "domainWidth": 2, "labelPadding": 1}}, "y2": {"field": "hi"}}},
                        {"mark": {"type": "tick", "orient": "horizontal", "size": 48, "thickness": 3, "color": "#000"}, "encoding": {"y": {"field": "hi", "type": "quantitative", "axis": {"title": null, "values": [0,50000,100000,150000,200000,250000], "labelExpr": "'' + datum.value", "labelOverlap": false, "labelFontSize": 12, "tickSize": 5, "tickWidth": 2, "domainWidth": 2, "labelPadding": 1}}}},
                        {"mark": {"type": "text", "fontSize": 24, "fontWeight": "bold", "font": "Lato", "baseline": "middle", "dy": -3, "color": "#000"}, "encoding": {"y": {"field": "hi", "type": "quantitative", "axis": {"title": null, "values": [0,50000,100000,150000,200000,250000], "labelExpr": "'' + datum.value", "labelOverlap": false, "labelFontSize": 12, "tickSize": 5, "tickWidth": 2, "domainWidth": 2, "labelPadding": 1}}, "text": {"field": "star"}}}
                      ]
                    }
                  ]
                }
              ]
            }
          ]
        }
      ]
    }
  ]
}
